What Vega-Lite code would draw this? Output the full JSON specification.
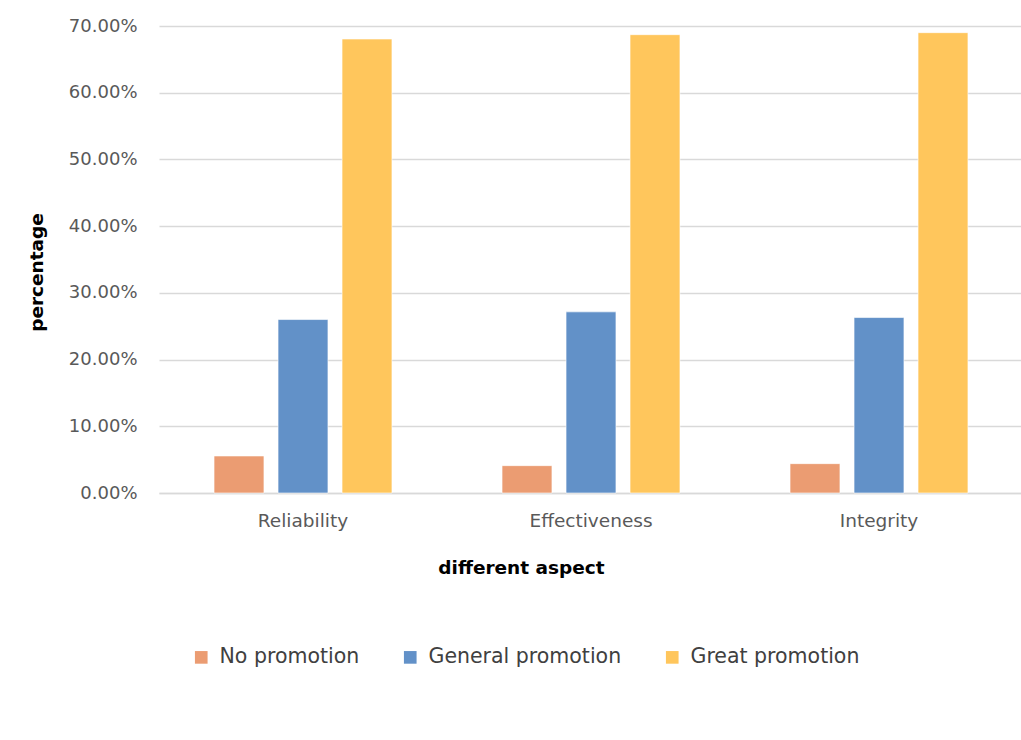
{
  "$schema": "https://vega.github.io/schema/vega-lite/v6.json",
  "autosize": {"type": "none"},
  "width": 864,
  "height": 467,
  "padding": {"left": 159, "top": 26, "right": 0, "bottom": 247},
  "background": "white",
  "config": {
    "view": {"stroke": null},
    "font": "DejaVu Sans"
  },
  "data": {
    "values": [
      {"aspect": "Reliability", "level": "No promotion", "pct": 0.0555},
      {"aspect": "Reliability", "level": "General promotion", "pct": 0.260},
      {"aspect": "Reliability", "level": "Great promotion", "pct": 0.6805},
      {"aspect": "Effectiveness", "level": "No promotion", "pct": 0.041},
      {"aspect": "Effectiveness", "level": "General promotion", "pct": 0.2715},
      {"aspect": "Effectiveness", "level": "Great promotion", "pct": 0.687},
      {"aspect": "Integrity", "level": "No promotion", "pct": 0.044},
      {"aspect": "Integrity", "level": "General promotion", "pct": 0.263},
      {"aspect": "Integrity", "level": "Great promotion", "pct": 0.690}
    ]
  },
  "mark": {"type": "bar", "stroke": "#ffffff", "strokeOpacity": 0.6, "strokeWidth": 1},
  "encoding": {
    "x": {
      "field": "aspect", "type": "nominal",
      "sort": ["Reliability", "Effectiveness", "Integrity"],
      "scale": {"paddingInner": 0, "paddingOuter": 0},
      "axis": {
        "title": "different aspect",
        "titleFont": "DejaVu Sans", "titleFontSize": 18.5, "titleFontWeight": "bold", "titleColor": "#000000",
        "titlePadding": 29,
        "titleX": 362,
        "labelFont": "DejaVu Sans", "labelFontSize": 18.5, "labelColor": "#595959", "labelAngle": 0,
        "labelPadding": 18,
        "ticks": false,
        "domainColor": "#d9d9d9", "domainWidth": 1.5
      }
    },
    "xOffset": {
      "field": "level", "type": "nominal",
      "sort": ["No promotion", "General promotion", "Great promotion"],
      "scale": {"paddingInner": 0.22, "paddingOuter": 0.86}
    },
    "y": {
      "field": "pct", "type": "quantitative",
      "scale": {"domain": [0, 0.7], "nice": false},
      "axis": {
        "title": "percentage",
        "titleFont": "DejaVu Sans", "titleFontSize": 18.5, "titleFontWeight": "bold", "titleColor": "#000000",
        "titlePadding": 22,
        "titleY": 246,
        "format": ".2%",
        "values": [0, 0.1, 0.2, 0.3, 0.4, 0.5, 0.6, 0.7],
        "labelFont": "DejaVu Sans", "labelFontSize": 18, "labelColor": "#595959",
        "labelPadding": 22,
        "ticks": false, "domain": false,
        "gridColor": "#d9d9d9", "gridWidth": 1.5
      }
    },
    "color": {
      "field": "level", "type": "nominal",
      "sort": ["No promotion", "General promotion", "Great promotion"],
      "scale": {
        "domain": ["No promotion", "General promotion", "Great promotion"],
        "range": ["#EB9C72", "#6291C8", "#FFC65C"]
      },
      "legend": {
        "title": null,
        "orient": "none",
        "direction": "horizontal",
        "legendX": 32,
        "legendY": 621,
        "symbolType": "square",
        "symbolSize": 160,
        "symbolStrokeWidth": 0,
        "labelFont": "DejaVu Sans",
        "labelFontSize": 20.5,
        "labelColor": "#404040",
        "labelOffset": 8,
        "columnPadding": 40,
        "labelLimit": 300
      }
    }
  }
}
